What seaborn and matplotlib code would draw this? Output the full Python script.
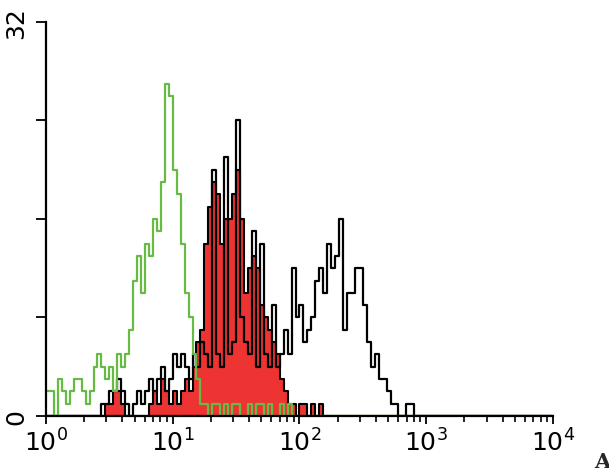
import numpy as np
import pandas as pd
import matplotlib
matplotlib.use('Agg')
import matplotlib.pyplot as plt
import seaborn as sns

# channel grid: 4 log decades split into 128 channels
n_bins = 128
decades = 4

# counts per channel (start = first channel index)
green_start = 0
green_counts = [2, 2, 0, 3, 2, 1, 2, 3, 3, 2,
                1, 2, 4, 5, 4, 3, 4, 2, 5, 4,
                5, 7, 11, 13, 10, 14, 13, 16, 15, 19,
                27, 26, 20, 18, 14, 10, 8, 5, 3, 1,
                1, 0, 1, 1, 0, 1, 0, 1, 1, 0,
                0, 1, 0, 1, 1, 0, 1, 0, 0, 1,
                0, 1]

red_start = 15
red_counts = [1, 1, 2, 2, 1, 0, 0, 0, 0, 0,
              0, 1, 2, 1, 3, 2, 1, 2, 1, 2,
              3, 2, 4, 6, 7, 14, 17, 19, 18, 14,
              16, 16, 18, 20, 16, 10, 12, 13, 12, 9,
              8, 7, 6, 5, 3, 2, 1, 1, 0, 1,
              1, 0, 1, 0, 1, 0]

black_start = 14
black_counts = [1, 1, 2, 2, 3, 2, 1, 0, 1, 2,
                1, 2, 3, 2, 3, 4, 2, 3, 5, 4,
                5, 4, 3, 5, 4, 6, 5, 4, 20, 5,
                4, 21, 5, 6, 24, 8, 6, 5, 15, 4,
                14, 5, 4, 9, 4, 5, 7, 5, 12, 8,
                9, 6, 7, 8, 11, 12, 10, 14, 12, 13,
                16, 7, 10, 10, 12, 12, 9, 6, 4, 5,
                3, 3, 2, 1, 1, 0, 0, 1, 1, 0]

x_ticks = [0, 1, 2, 3, 4]
x_tick_labels = ['$10^{0}$', '$10^{1}$', '$10^{2}$', '$10^{3}$', '$10^{4}$']
y_ticks = [0, 8, 16, 24, 32]
y_tick_labels = ['0', '', '', '', '32']

edges = np.linspace(0, decades, n_bins + 1)
centers = (edges[:-1] + edges[1:]) / 2


def to_df(start, counts):
    arr = np.zeros(n_bins)
    arr[start:start + len(counts)] = counts
    return pd.DataFrame({'chan': centers, 'count': arr})


sns.set_style('ticks')
plt.rcParams['font.family'] = ['DejaVu Sans']
plt.rcParams['mathtext.fontset'] = 'dejavusans'

fig = plt.figure(figsize=(6.09, 4.77), dpi=100)
ax = fig.add_axes([0.0755, 0.1258, 0.8325, 0.826])

hist_kws = dict(x='chan', weights='count', bins=n_bins, binrange=(0, decades),
                element='step', ax=ax)
sns.histplot(data=to_df(red_start, red_counts), fill=True, color='#ee3333',
             alpha=1, edgecolor='black', linewidth=1.5, **hist_kws)
sns.histplot(data=to_df(black_start, black_counts), fill=False, color='black',
             linewidth=1.6, **hist_kws)
sns.histplot(data=to_df(green_start, green_counts), fill=False, color='#66bb44',
             linewidth=1.6, **hist_kws)

ax.set_xlim(0, decades)
ax.set_ylim(0, 32)
ax.set_xlabel('')
ax.set_ylabel('')

ax.set_xticks(x_ticks)
ax.set_xticklabels(x_tick_labels)
minor = [n + np.log10(m) for n in range(decades) for m in range(2, 10)]
ax.set_xticks(minor, minor=True)
ax.set_yticks(y_ticks)
ax.set_yticklabels(y_tick_labels, rotation=90, va='center')

ax.tick_params(axis='x', which='major', length=6, width=1.3, labelsize=18, pad=3,
               color='black', labelcolor='black')
ax.tick_params(axis='x', which='minor', length=4, width=1.2, color='black')
ax.tick_params(axis='y', length=7, width=1.3, labelsize=18, pad=6,
               color='black', labelcolor='black')

sns.despine(ax=ax)
for s in ['left', 'bottom']:
    ax.spines[s].set_linewidth(1.6)
    ax.spines[s].set_color('black')

fig.text(0.975, 0.01, 'A', ha='left', va='bottom', fontsize=15,
         fontweight='bold', family='DejaVu Serif')

fig.savefig('out.png', dpi=100)
